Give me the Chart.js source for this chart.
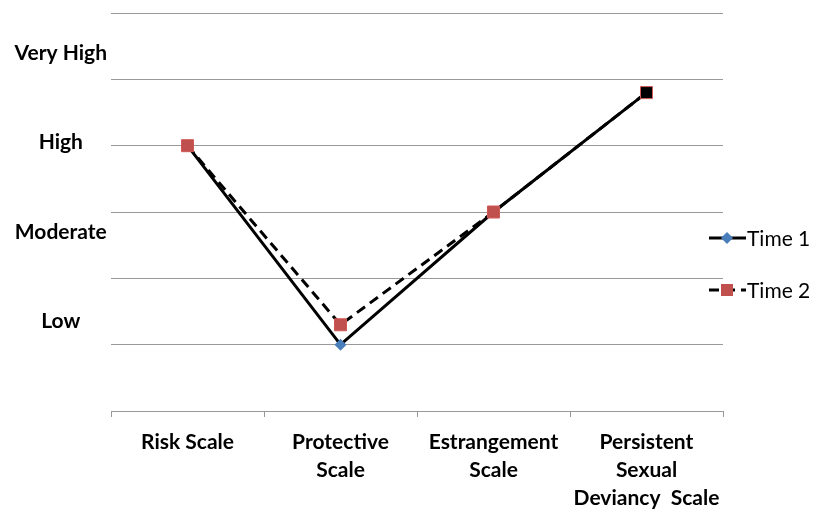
<html>
<head>
<script src="https://cdn.jsdelivr.net/npm/chart.js@4.4.1/dist/chart.umd.min.js"></script>
<style>
  body { margin: 0; background: #fff; }
  #wrap { position: relative; width: 814px; height: 515px; }
  .leg { position: absolute; left: 706px; font: 21px Lato, sans-serif; color: #000; display: flex; align-items: center; }
  .leg svg { margin-right: 1px; }
</style>
</head>
<body>
<div id="wrap">
  <canvas id="myChart" width="814" height="515"></canvas>
  <div class="leg" style="top:225px">
    <svg width="40" height="20"><line x1="3" y1="10" x2="40" y2="10" stroke="#000" stroke-width="3"/>
      <polygon points="21,4 27,10 21,16 15,10" fill="#4a7ebb"/></svg>Time 1</div>
  <div class="leg" style="top:277px">
    <svg width="40" height="20"><line x1="3" y1="10" x2="40" y2="10" stroke="#000" stroke-width="3" stroke-dasharray="10,6"/>
      <rect x="15" y="4" width="12" height="12" fill="#c0504d"/></svg>Time 2</div>
</div>
<script>
var categories = [["Risk Scale"], ["Protective", "Scale"], ["Estrangement", "Scale"], ["Persistent", "Sexual", "Deviancy  Scale"]];
var time1 = [4, 1, 3, 4.8];
var time2 = [4, 1.3, 3, 4.8];
var levelValues = [1.35, 2.7, 4.05, 5.4];
var levelLabels = ["Low", "Moderate", "High", "Very High"];

var ctx = document.getElementById("myChart").getContext("2d");
var chart = new Chart(ctx, {
    type: 'line',
    data: {
        labels: categories,
        datasets: [
            {
                label: "Time 1",
                data: time1,
                borderColor: "#000",
                borderWidth: 3,
                pointStyle: 'rectRot',
                pointRadius: 6,
                pointBackgroundColor: "#4a7ebb",
                pointBorderColor: "#4a7ebb",
                pointBorderWidth: 0,
                tension: 0,
                order: 1
            },
            {
                label: "Time 2",
                data: time2,
                borderColor: "#000",
                borderWidth: 3,
                borderDash: [10, 6],
                pointStyle: 'rect',
                pointRadius: 8.5,
                pointBackgroundColor: ["#c0504d", "#c0504d", "#c0504d", "#000"],
                pointBorderColor: "#d05a57",
                pointBorderWidth: 1,
                tension: 0,
                order: 0
            }
        ]
    },
    options: {
        animation: false,
        responsive: false,
        layout: { padding: { top: 13, right: 91, left: 0, bottom: 0 } },
        plugins: { legend: { display: false }, tooltip: { enabled: false } },
        scales: {
            x: {
                offset: true,
                grid: { offset: true, drawOnChartArea: false, color: "#999", tickLength: 6 },
                border: { color: "#999" },
                ticks: { color: "#000", padding: 11, maxRotation: 0, font: { family: "Lato", weight: 'bold', size: 21, lineHeight: 1.34 } },
                afterFit: function (scale) { scale.height = 104; }
            },
            y: {
                min: 0, max: 6,
                ticks: { stepSize: 1, display: false },
                grid: { color: "#999", drawTicks: false },
                border: { display: false },
                afterFit: function (scale) { scale.width = 0; }
            },
            y2: {
                position: 'left',
                min: 0, max: 6,
                afterBuildTicks: function (scale) {
                    scale.ticks = levelValues.map(function (v) { return { value: v }; });
                },
                ticks: {
                    crossAlign: 'center',
                    padding: 4,
                    color: "#000",
                    font: { family: "Lato", weight: 'bold', size: 21 },
                    callback: function (v) {
                        var i = levelValues.indexOf(v);
                        return i >= 0 ? levelLabels[i] : '';
                    }
                },
                grid: { display: false, drawTicks: false },
                border: { display: false },
                afterFit: function (scale) {
                    scale.width = 111;
                    scale.paddingTop = 0;
                    scale.paddingBottom = 0;
                }
            }
        }
    }
});
</script>
</body>
</html>
